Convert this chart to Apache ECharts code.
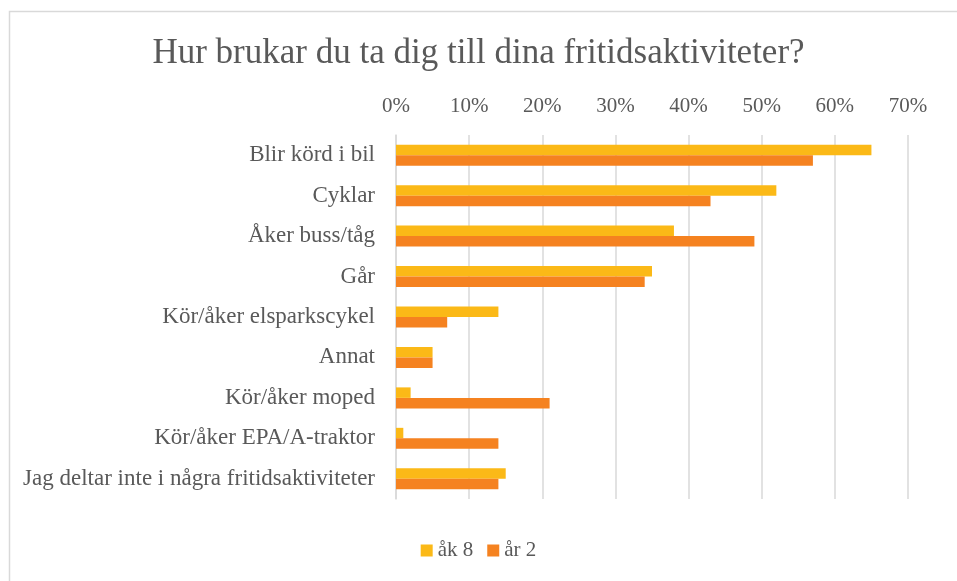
<!DOCTYPE html>
<html>
<head>
<meta charset="utf-8">
<script src="https://cdn.jsdelivr.net/npm/echarts@6/dist/echarts.min.js"></script>
<style>
html,body{margin:0;padding:0;background:#fff;}
#c{width:957px;height:581px;}
</style>
</head>
<body>
<div id="c"></div>
<script>
const categories = [
  "Blir körd i bil",
  "Cyklar",
  "Åker buss/tåg",
  "Går",
  "Kör/åker elsparkscykel",
  "Annat",
  "Kör/åker moped",
  "Kör/åker EPA/A-traktor",
  "Jag deltar inte i några fritidsaktiviteter"
];
const ak8 = [65, 52, 38, 35, 14, 5, 2, 1, 15];
const ar2 = [57, 43, 49, 34, 7, 5, 21, 14, 14];
const seriesNames = ["åk 8", "år 2"];
const xTicks = { min: 0, max: 70, interval: 10 };

const font = '"Liberation Serif", "DejaVu Serif", serif';
const chart = echarts.init(document.getElementById('c'), null, { renderer: 'canvas' });
chart.setOption({
  animation: false,
  backgroundColor: '#fff',
  title: {
    text: 'Hur brukar du ta dig till dina fritidsaktiviteter?',
    left: 'center',
    top: 31,
    textStyle: { fontFamily: font, fontSize: 35, fontWeight: 'normal', color: '#595959' }
  },
  graphic: [{
    type: 'rect',
    shape: { x: 9.5, y: 11.5, width: 1000, height: 1000 },
    style: { fill: 'none', stroke: '#d9d9d9', lineWidth: 1.5 },
    silent: true
  }],
  legend: {
    data: seriesNames,
    bottom: 15,
    left: 'center',
    itemWidth: 12,
    itemHeight: 12,
    itemGap: 14,
    icon: 'rect',
    textStyle: { fontFamily: font, fontSize: 21, color: '#595959' }
  },
  grid: { left: 396, right: 49, top: 135, bottom: 82, containLabel: false },
  xAxis: {
    type: 'value',
    position: 'top',
    min: xTicks.min, max: xTicks.max, interval: xTicks.interval,
    axisLine: { show: false },
    axisTick: { show: false },
    axisLabel: { formatter: '{value}%', fontFamily: font, fontSize: 21, color: '#595959', margin: 18 },
    splitLine: { lineStyle: { color: '#d9d9d9', width: 1.5 } }
  },
  yAxis: {
    type: 'category',
    inverse: true,
    data: categories,
    axisLine: { show: true, lineStyle: { color: '#d9d9d9', width: 1.5 } },
    axisTick: { show: false },
    axisLabel: { fontFamily: font, fontSize: 23, color: '#595959', margin: 21 }
  },
  series: [
    { name: seriesNames[0], type: 'bar', data: ak8, barWidth: 10.5, barGap: '0%', itemStyle: { color: '#FBB917' } },
    { name: seriesNames[1], type: 'bar', data: ar2, barWidth: 10.5, barGap: '0%', itemStyle: { color: '#F58220' } }
  ]
});
</script>
</body>
</html>
